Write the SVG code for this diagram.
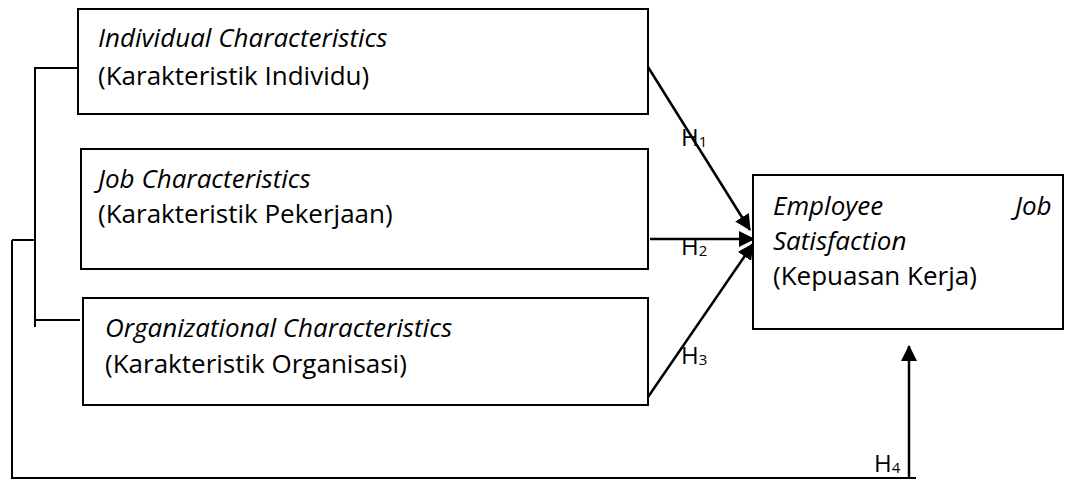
<svg xmlns="http://www.w3.org/2000/svg" width="1065" height="482" viewBox="0 0 1065 482">
<style>
.box{fill:#fff;stroke:#000;stroke-width:2}
.ln{fill:none;stroke:#000;stroke-width:2}
.ar{fill:none;stroke:#000;stroke-width:2.5}
text{font-family:"Open Sans","Noto Sans",sans-serif;font-size:26px;fill:#000}
.it{font-style:italic}
.h{font-size:24px}
.sub{font-size:15px}
</style>
<defs>
<marker id="ahb" markerWidth="16" markerHeight="16" refX="15" refY="8" orient="auto" markerUnits="userSpaceOnUse" viewBox="0 0 16 16">
<path d="M0,0 L16,8 L0,16 z" fill="#000"/>
</marker>
</defs>
<g id="connectors">
<polyline class="ln" points="78,68 35,68 35,327"/>
<line class="ln" x1="35" y1="320" x2="80" y2="320"/>
<line class="ln" x1="12" y1="240" x2="36" y2="240"/>
<polyline class="ln" points="12,240 12,478 916,478"/>
<line class="ar" x1="909" y1="478" x2="909" y2="346" marker-end="url(#ahb)"/>
<line class="ar" x1="648" y1="67" x2="750" y2="230" marker-end="url(#ahb)"/>
<line class="ar" x1="650" y1="239" x2="754" y2="239" marker-end="url(#ahb)"/>
<line class="ar" x1="648" y1="397" x2="753" y2="244" marker-end="url(#ahb)"/>
<text class="h" x="681" y="146">H<tspan class="sub" dy="1">1</tspan></text>
<text class="h" x="681" y="255">H<tspan class="sub" dy="1">2</tspan></text>
<text class="h" x="681" y="364">H<tspan class="sub" dy="1">3</tspan></text>
<text class="h" x="874" y="472">H<tspan class="sub" dy="1">4</tspan></text>
</g>
<g id="node-individual">
<rect class="box" x="78" y="9" width="570" height="105"/>
<text class="it" x="98" y="47">Individual Characteristics</text>
<text x="98" y="85">(Karakteristik Individu)</text>
</g>
<g id="node-job">
<rect class="box" x="81" y="149" width="567" height="120"/>
<text class="it" x="98" y="188">Job Characteristics</text>
<text x="98" y="223">(Karakteristik Pekerjaan)</text>
</g>
<g id="node-org">
<rect class="box" x="83" y="298" width="565" height="107"/>
<text class="it" x="105" y="337">Organizational Characteristics</text>
<text x="105" y="373">(Karakteristik Organisasi)</text>
</g>
<g id="node-satisfaction">
<rect class="box" x="753" y="175" width="310" height="154"/>
<text class="it" x="773" y="215">Employee</text>
<text class="it" x="1015" y="215">Job</text>
<text class="it" x="773" y="250">Satisfaction</text>
<text x="773" y="285">(Kepuasan Kerja)</text>
</g>
</svg>
